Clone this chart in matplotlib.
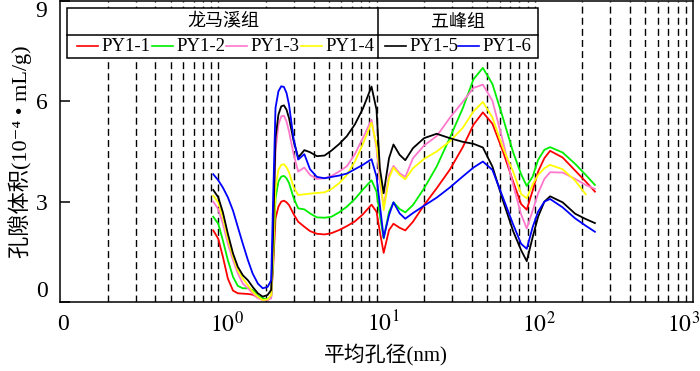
import numpy as np
import matplotlib
matplotlib.use('Agg')
import matplotlib.pyplot as plt
from matplotlib.patches import Rectangle
from matplotlib.lines import Line2D
from matplotlib.transforms import blended_transform_factory, offset_copy

plt.rcParams['font.family'] = ['Liberation Serif', 'Noto Sans CJK SC', 'DejaVu Sans']
plt.rcParams['mathtext.fontset'] = 'stix'

# ---------------- data ----------------
pore_size = [0.93, 1.0, 1.07, 1.15, 1.24, 1.33, 1.43, 1.54, 1.65, 1.78, 1.91, 2.05, 2.16,
             2.22, 2.3, 2.4, 2.5, 2.6, 2.7, 2.8, 3.0, 3.2, 3.5, 3.8, 4.2, 4.7, 5.2, 5.8, 6.5, 7.3, 8.2, 9.3,
             10.0, 10.5, 11.1, 12.0, 12.8, 14.0, 15.2, 17, 20, 24, 29, 35, 41, 47, 54, 63, 73,
             82, 89, 97, 105, 115, 125, 150, 180, 210, 240]

py1_1 = [2.14, 1.89, 1.35, 0.70, 0.34, 0.26, 0.25, 0.24, 0.22, 0.14, 0.08, 0.06, 0.16,
         1.0, 2.5, 2.85, 3.0, 3.03, 2.98, 2.9, 2.62, 2.4, 2.25, 2.12, 2.04, 2.02, 2.06, 2.15, 2.27, 2.41, 2.62, 2.91,
         2.7, 2.1, 1.47, 2.15, 2.34, 2.22, 2.14, 2.4, 2.9, 3.4, 3.95, 4.62, 5.3, 5.67, 5.33, 4.5, 3.6,
         2.93, 2.76, 3.33, 3.9, 4.3, 4.52, 4.32, 3.93, 3.6, 3.3]
py1_2 = [2.55, 2.34, 1.84, 1.25, 0.75, 0.48, 0.41, 0.41, 0.36, 0.18, 0.11, 0.08, 0.16,
         1.2, 3.1, 3.6, 3.75, 3.77, 3.7, 3.56, 3.1, 2.8, 2.77, 2.65, 2.53, 2.52, 2.55, 2.68, 2.85, 3.08, 3.36, 3.64,
         3.3, 2.6, 1.9, 2.7, 2.98, 2.78, 2.68, 2.9, 3.4, 4.05, 4.9, 5.78, 6.66, 7.0, 6.52, 5.5, 4.48,
         3.82, 3.47, 3.75, 4.25, 4.55, 4.63, 4.47, 4.13, 3.8, 3.5]
py1_3 = [3.0, 2.78, 2.34, 1.74, 1.25, 0.85, 0.55, 0.41, 0.26, 0.11, 0.06, 0.06, 0.11,
         1.6, 4.5, 5.3, 5.55, 5.57, 5.4, 5.1, 4.4, 3.9, 4.02, 3.8, 3.68, 3.70, 3.77, 3.9, 4.06, 4.42, 4.9, 5.45,
         4.6, 3.6, 2.85, 3.8, 4.07, 3.85, 3.74, 4.3, 4.68, 4.96, 5.5, 5.98, 6.4, 6.5, 6.02, 4.8, 3.5,
         2.62, 2.2, 2.73, 3.25, 3.68, 3.88, 3.87, 3.68, 3.5, 3.38]
py1_4 = [3.18, 2.98, 2.53, 1.89, 1.35, 0.95, 0.70, 0.50, 0.31, 0.16, 0.06, 0.08, 0.21,
         1.4, 3.4, 3.95, 4.1, 4.12, 4.03, 3.88, 3.42, 3.2, 3.22, 3.24, 3.26, 3.28, 3.38, 3.55, 3.8, 4.2, 4.72, 5.36,
         4.7, 3.9, 2.75, 3.7, 4.02, 3.8, 3.67, 4.0, 4.28, 4.5, 4.8, 5.2, 5.7, 5.98, 5.52, 4.6, 3.9,
         3.23, 3.1, 3.52, 3.8, 4.0, 4.1, 3.97, 3.63, 3.22, np.nan]
py1_5 = [3.35, 3.13, 2.68, 2.04, 1.45, 1.05, 0.80, 0.65, 0.45, 0.26, 0.16, 0.21, 0.36,
         2.0, 4.9, 5.6, 5.85, 5.88, 5.75, 5.5, 4.8, 4.32, 4.54, 4.48, 4.36, 4.38, 4.53, 4.72, 4.96, 5.31, 5.78, 6.44,
         5.75, 4.0, 3.25, 4.3, 4.71, 4.4, 4.24, 4.6, 4.9, 5.03, 4.9, 4.79, 4.73, 4.62, 4.05, 3.03, 2.12,
         1.55, 1.22, 1.94, 2.55, 3.0, 3.16, 2.98, 2.64, 2.48, 2.36]
py1_6 = [3.82, 3.64, 3.42, 3.13, 2.73, 2.24, 1.74, 1.25, 0.85, 0.55, 0.41, 0.45, 0.65,
         3.0, 5.8, 6.3, 6.45, 6.43, 6.25, 5.9, 4.85, 4.26, 4.42, 3.97, 3.74, 3.70, 3.74, 3.78, 3.84, 3.97, 4.10, 4.27,
         3.75, 2.9, 1.92, 2.6, 2.98, 2.65, 2.49, 2.66, 2.88, 3.12, 3.42, 3.75, 4.02, 4.2, 3.95, 3.12, 2.32,
         1.74, 1.59, 2.24, 2.7, 3.0, 3.08, 2.83, 2.5, 2.28, 2.1]

series_names = ['PY1-1', 'PY1-2', 'PY1-3', 'PY1-4', 'PY1-5', 'PY1-6']
series_values = [py1_1, py1_2, py1_3, py1_4, py1_5, py1_6]
series_colors = ['#ff0000', '#00ee00', '#ff77cc', '#ffff00', '#000000', '#0000ff']
group_names = ['龙马溪组', '五峰组']
x_tick_values = [0.1, 1, 10, 100, 1000]
x_tick_labels = ['0', '$10^0$', '$10^1$', '$10^2$', '$10^3$']
y_tick_values = [0, 3, 6, 9]
guide_multipliers = [2, 3, 4, 5, 6, 7, 8, 9, 10]
guide_decades = [0.1, 1, 10, 100]

# ---------------- figure ----------------
W, H = 700, 371
fig = plt.figure(figsize=(W / 100, H / 100), dpi=100)


def fx(px):
    return px / W


def fy(py):
    return 1 - py / H


ax = fig.add_axes([fx(60), fy(302), (693 - 60) / W, (302 - 1) / H])
ax.set_xscale('log')
ax.set_xlim(0.1, 1000)
ax.set_ylim(0, 9)
ax.xaxis.set_minor_locator(matplotlib.ticker.NullLocator())
ax.set_xticks(x_tick_values)
ax.set_xticklabels([])
ax.tick_params(axis='x', length=0)
ax.set_yticks(y_tick_values)
ax.tick_params(axis='y', direction='in', length=7, width=1.1, labelsize=17, pad=9)
ylabels = ax.get_yticklabels()
ylabels[-1].set_va('top')
ylabels[0].set_va('bottom')
for s in ax.spines.values():
    s.set_linewidth(1.1)

# vertical dashed guide lines
for d in guide_decades:
    for k in guide_multipliers:
        v = k * d
        if v < 1000:
            ax.axvline(v, color='black', lw=1.0, ls=(0, (5, 3)), zorder=1)

for vals, col in zip(series_values, series_colors):
    ax.plot(pore_size, vals, color=col, lw=1.3, zorder=2, solid_joinstyle='round')

# x tick labels as text with small offsets
trans = blended_transform_factory(ax.transData, ax.transAxes)
x_offsets = [3, 9, 7, 4, -9]
for v, lab, dx in zip(x_tick_values, x_tick_labels, x_offsets):
    ax.text(v, 0, lab, transform=offset_copy(trans, fig, x=dx, y=-22, units='dots'),
            ha='center', va='center', fontsize=17, clip_on=False)

# legend table
box = Rectangle((fx(67), fy(58)), (538 - 67) / W, (58 - 8) / H, transform=fig.transFigure,
                facecolor='white', edgecolor='black', lw=1.1, zorder=5)
fig.add_artist(box)
fig.add_artist(Line2D([fx(67), fx(538)], [fy(35), fy(35)], transform=fig.transFigure,
                      color='black', lw=1.1, zorder=6))
fig.add_artist(Line2D([fx(378), fx(378)], [fy(8), fy(58)], transform=fig.transFigure,
                      color='black', lw=1.1, zorder=6))
fig.text(fx(223), fy(22), group_names[0], ha='center', va='center', fontsize=13, zorder=7)
fig.text(fx(458), fy(22), group_names[1], ha='center', va='center', fontsize=13, zorder=7)

entry_x = [77, 152, 226, 301, 385, 458]
for name, col, x0 in zip(series_names, series_colors, entry_x):
    fig.add_artist(Line2D([fx(x0), fx(x0 + 21)], [fy(46), fy(46)], transform=fig.transFigure,
                          color=col, lw=1.2, zorder=7))
    fig.text(fx(x0 + 24), fy(46.5), name, ha='left', va='center', fontsize=13.5, zorder=7)

fig.text(fx(20), fy(152), '孔隙体积(10⁻⁴ • mL/g)', rotation=90, ha='center', va='center', fontsize=16)
fig.text(fx(386), fy(355), '平均孔径(nm)', ha='center', va='center', fontsize=15)

fig.savefig('out.png', dpi=100)
